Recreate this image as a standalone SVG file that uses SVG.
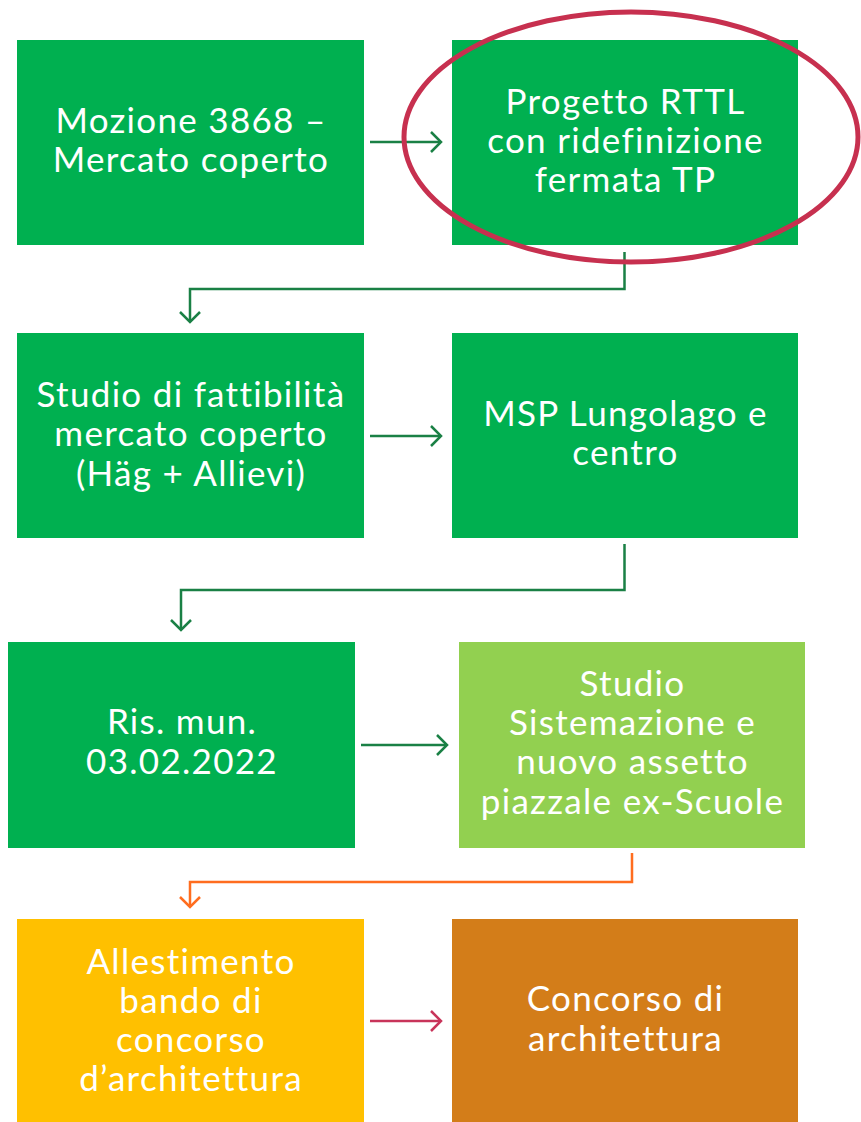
<svg xmlns="http://www.w3.org/2000/svg" width="861" height="1122" viewBox="0 0 861 1122">
<defs>
<style>
.t{font-family:Lato,"Open Sans","Liberation Sans",sans-serif;font-size:35px;letter-spacing:1.3px;fill:#fff;text-anchor:middle}
.g{fill:#00B050}
.c{fill:none;stroke-width:2.5}
</style>
<marker id="ag" markerWidth="24" markerHeight="24" viewBox="0 0 24 24" refX="21" refY="12" orient="auto" markerUnits="userSpaceOnUse"><path d="M11 2 L21 12 L11 22" fill="none" stroke="#1A8045" stroke-width="2.5"/></marker>
<marker id="ao" markerWidth="24" markerHeight="24" viewBox="0 0 24 24" refX="21" refY="12" orient="auto" markerUnits="userSpaceOnUse"><path d="M11 2 L21 12 L11 22" fill="none" stroke="#FF6D1F" stroke-width="2.5"/></marker>
<marker id="ar" markerWidth="24" markerHeight="24" viewBox="0 0 24 24" refX="21" refY="12" orient="auto" markerUnits="userSpaceOnUse"><path d="M11 2 L21 12 L11 22" fill="none" stroke="#C8345A" stroke-width="2.5"/></marker>
</defs>
<rect width="861" height="1122" fill="#fff"/>
<g id="n1"><rect class="g" x="17" y="40" width="347" height="205"/><text class="t" x="191" y="133">Mozione 3868 –</text><text class="t" x="191" y="172">Mercato coperto</text></g>
<g id="n2"><rect class="g" x="452" y="40" width="346" height="205"/><text class="t" x="625.5" y="114">Progetto RTTL</text><text class="t" x="625.5" y="153">con ridefinizione</text><text class="t" x="625.5" y="192">fermata TP</text></g>
<g id="n3"><rect class="g" x="17" y="333" width="347" height="205"/><text class="t" x="191" y="407">Studio di fattibilità</text><text class="t" x="191" y="446">mercato coperto</text><text class="t" x="191" y="486">(Häg + Allievi)</text></g>
<g id="n4"><rect class="g" x="452" y="333" width="346" height="205"/><text class="t" x="625.5" y="426">MSP Lungolago e</text><text class="t" x="625.5" y="465">centro</text></g>
<g id="n5"><rect class="g" x="8" y="642" width="347" height="206"/><text class="t" x="182" y="734">Ris. mun.</text><text class="t" x="182" y="774">03.02.2022</text></g>
<g id="n6"><rect fill="#92D050" x="459" y="642" width="346" height="206"/><text class="t" x="632.5" y="696">Studio</text><text class="t" x="632.5" y="735">Sistemazione e</text><text class="t" x="632.5" y="774">nuovo assetto</text><text class="t" x="632.5" y="814">piazzale ex-Scuole</text></g>
<g id="n7"><rect fill="#FFC000" x="17" y="919" width="347" height="203"/><text class="t" x="191" y="974">Allestimento</text><text class="t" x="191" y="1013">bando di</text><text class="t" x="191" y="1052">concorso</text><text class="t" x="191" y="1091">d’architettura</text></g>
<g id="n8"><rect fill="#D37D19" x="452" y="919" width="346" height="203"/><text class="t" x="625.5" y="1011">Concorso di</text><text class="t" x="625.5" y="1051">architettura</text></g>
<g id="connectors">
<path class="c" stroke="#1A8045" d="M370 142 H441" marker-end="url(#ag)"/>
<path class="c" stroke="#1A8045" d="M624.5 252 V289 H190 V322" marker-end="url(#ag)"/>
<path class="c" stroke="#1A8045" d="M370 436 H441" marker-end="url(#ag)"/>
<path class="c" stroke="#1A8045" d="M624.5 544 V590 H181 V630" marker-end="url(#ag)"/>
<path class="c" stroke="#1A8045" d="M361 745 H447" marker-end="url(#ag)"/>
<path class="c" stroke="#FF6D1F" d="M632 853 V882 H190 V907" marker-end="url(#ao)"/>
<path class="c" stroke="#C8345A" d="M370 1021 H441" marker-end="url(#ar)"/>
</g>
<ellipse id="highlight" cx="631" cy="137" rx="227" ry="125" fill="none" stroke="#C7304F" stroke-width="5"/>
</svg>
